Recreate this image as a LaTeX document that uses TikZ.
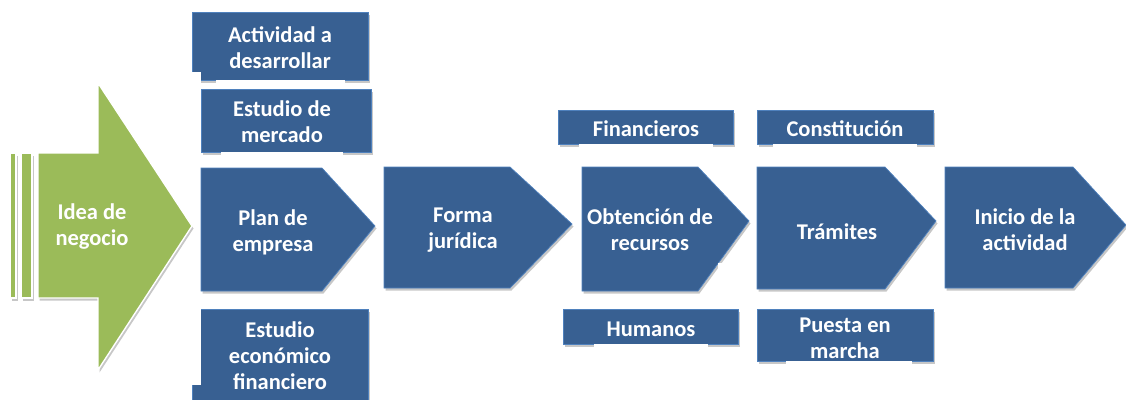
\documentclass[tikz,border=0pt]{standalone}
\usepackage{fontspec}
\setmainfont{Carlito}
\definecolor{myblue}{RGB}{56,96,146}
\definecolor{myblueedge}{RGB}{79,129,189}
\definecolor{mygreen}{RGB}{155,187,89}
\tikzset{
  bluefill/.style={fill=myblue, draw=myblueedge, line width=0.7pt},
  shadowfill/.style={fill=black, opacity=0.22},
  greenfill/.style={fill=mygreen, draw=white, line width=1.4pt},
  whitefill/.style={fill=white, draw=none},
  txt/.style={text=white, font=\fontsize{22.5}{26}\selectfont\bfseries, align=center, inner sep=0pt}
}
\newcommand\pentshape[6]{%
  \fill[shadowfill] ($(#1,#2)+(1.5,2.5)$) -- ($(#3,#2)+(1.5,2.5)$) -- ($(#4,#5)+(1.5,2.5)$) -- ($(#3,#6)+(1.5,2.5)$) -- ($(#1,#6)+(1.5,2.5)$) -- cycle;
  \path[bluefill] (#1,#2) -- (#3,#2) -- (#4,#5) -- (#3,#6) -- (#1,#6) -- cycle;}
\newcommand\rectshape[4]{%
  \fill[shadowfill] ($(#1,#2)+(1.5,2.5)$) rectangle ($(#3,#4)+(1.5,2.5)$);
  \path[bluefill] (#1,#2) rectangle (#3,#4);}
\usetikzlibrary{calc}
\begin{document}
\begin{tikzpicture}[x=1pt,y=-1pt]
\clip (0,0) rectangle (1126,399);
\fill[white] (0,0) rectangle (1126,399);
% green arrow
\fill[shadowfill] ($(10,153)+(1.5,2.5)$) rectangle ($(16,298)+(1.5,2.5)$);
\fill[shadowfill] ($(21,153)+(1.5,2.5)$) rectangle ($(32,298)+(1.5,2.5)$);
\fill[shadowfill] ($(38,153)+(1.5,2.5)$) -- ($(98,153)+(1.5,2.5)$) -- ($(98,83)+(1.5,2.5)$) -- ($(192,226)+(1.5,2.5)$) -- ($(98,370)+(1.5,2.5)$) -- ($(98,298)+(1.5,2.5)$) -- ($(38,298)+(1.5,2.5)$) -- cycle;
\path[greenfill] (10,153) rectangle (16,298);
\path[greenfill] (21,153) rectangle (32,298);
\path[greenfill] (38,153) -- (98,153) -- (98,83) -- (192,226) -- (98,370) -- (98,298) -- (38,298) -- cycle;
\node[txt] (idea) at (92,227) {Idea de\\negocio};
% top / bottom boxes
\rectshape{192}{12}{368}{80}
\fill[whitefill] (216,80.4) rectangle (345,87);
\fill[whitefill] (180,72) rectangle (201,83);
\node[txt] (actividad) at (280,48) {Actividad a\\desarrollar};
\rectshape{201}{89}{371}{152}
\fill[whitefill] (221,152.4) rectangle (343,159);
\node[txt] (mercado) at (282,122) {Estudio de\\mercado};
\rectshape{192}{309}{368}{410}
\fill[whitefill] (185,300) rectangle (200.6,385);
\node[txt] (economico) at (280,356) {Estudio\\económico\\financiero};
\rectshape{558}{110}{733}{144}
\fill[whitefill] (579,144.4) rectangle (713,150);
\node[txt] (financieros) at (646,129) {Financieros};
\rectshape{757}{110}{933}{144}
\fill[whitefill] (773,144.4) rectangle (917,150);
\node[txt] (constitucion) at (845,129) {Constitución};
\rectshape{563}{309}{738}{344}
\fill[whitefill] (594,344.4) rectangle (708,351);
\node[txt] (humanos) at (651,329) {Humanos};
\rectshape{757}{309}{933}{361}
\fill[whitefill] (786,361.4) rectangle (912,367);
\node[txt] (puesta) at (845,338) {Puesta en\\marcha};
% process chevrons
\pentshape{201}{168}{322}{375}{226}{291}
\node[txt] (plan) at (273,232) {Plan de\\empresa};
\pentshape{384}{167}{510}{572}{224}{288}
\node[txt] (forma) at (463,230) {Forma\\jurídica};
\pentshape{582}{167}{698}{749}{221}{291}
\fill[whitefill] (718,263) rectangle (725,272);
\node[txt] (obtencion) at (650,230) {Obtención de\\recursos};
\pentshape{757}{167}{885}{936}{221}{289}
\node[txt] (tramites) at (837,232) {Trámites};
\pentshape{945}{167}{1073}{1126}{225}{288}
\node[txt] (inicio) at (1025,230) {Inicio de la\\actividad};
\end{tikzpicture}
\end{document}
